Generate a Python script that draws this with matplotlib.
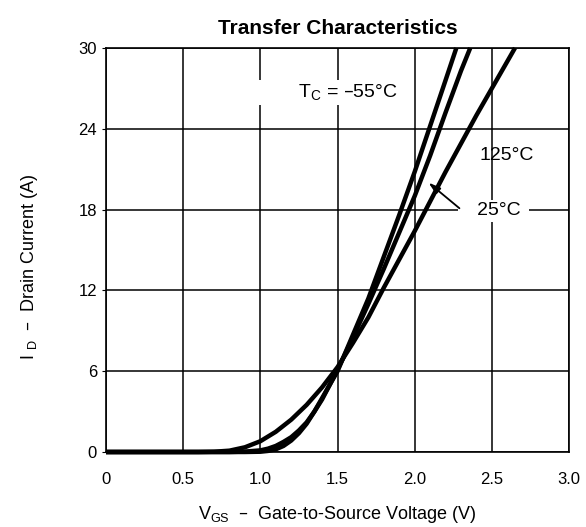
import matplotlib
matplotlib.use("Agg")
import matplotlib.pyplot as plt
import numpy as np

plt.rcParams['font.family'] = ['Liberation Sans', 'DejaVu Sans']
plt.rcParams['mathtext.default'] = 'regular'

# Data (VGS in V, ID in A)
vgs_m55 = [0, 0.9, 1.0, 1.05, 1.1, 1.15, 1.2, 1.25, 1.3, 1.35, 1.4, 1.45, 1.5, 1.6, 1.7, 1.8, 1.9, 2.0, 2.1, 2.2, 2.27]
id_m55 = [0, 0, 0.02, 0.08, 0.2, 0.45, 0.85, 1.4, 2.1, 3.0, 4.0, 5.0, 6.0, 8.7, 11.4, 14.5, 17.6, 20.8, 24.2, 27.6, 30]

vgs_25 = [0, 0.8, 0.9, 1.0, 1.05, 1.1, 1.15, 1.2, 1.25, 1.3, 1.35, 1.4, 1.45, 1.5, 1.6, 1.7, 1.8, 1.9, 2.0, 2.1, 2.2, 2.3, 2.36]
id_25 = [0, 0, 0.03, 0.12, 0.25, 0.45, 0.75, 1.1, 1.6, 2.2, 3.0, 3.9, 5.0, 6.1, 8.5, 11.0, 13.6, 16.3, 19.0, 22.0, 25.2, 28.3, 30]

vgs_125 = [0, 0.6, 0.7, 0.8, 0.9, 1.0, 1.1, 1.2, 1.3, 1.4, 1.5, 1.6, 1.7, 1.8, 1.9, 2.0, 2.1, 2.2, 2.3, 2.4, 2.5, 2.6, 2.65]
id_125 = [0, 0, 0.02, 0.1, 0.35, 0.8, 1.5, 2.4, 3.5, 4.8, 6.3, 8.1, 10.0, 12.2, 14.3, 16.4, 18.6, 20.8, 22.9, 25.0, 27.0, 29.0, 30]

xticks = [0, 0.5, 1.0, 1.5, 2.0, 2.5, 3.0]
xticklabels = ['0', '0.5', '1.0', '1.5', '2.0', '2.5', '3.0']
yticks = [0, 6, 12, 18, 24, 30]

fig = plt.figure(figsize=(5.86, 5.27), dpi=100)
ax = fig.add_axes([106/586, 1-452/527, (569-106)/586, (452-48)/527])

for v, i in [(vgs_m55, id_m55), (vgs_25, id_25), (vgs_125, id_125)]:
    ax.plot(v, i, color='black', lw=3.2, solid_capstyle='butt', zorder=3, clip_on=False)

ax.set_xlim(0, 3.0)
ax.set_ylim(0, 30)
ax.set_xticks(xticks)
ax.set_xticklabels(xticklabels)
ax.set_yticks(yticks)
ax.grid(True, color='black', lw=1.1)
ax.set_axisbelow(True)
ax.tick_params(axis='x', length=0, labelsize=12, pad=14.5, colors='black')
ax.tick_params(axis='y', direction='out', length=3, labelsize=12, pad=3.4, colors='black')
for s in ax.spines.values():
    s.set_linewidth(1.2)
    s.set_color('black')

ax.set_title('Transfer Characteristics', fontsize=15, fontweight='bold', pad=10)
ax.set_xlabel('V$_{GS}$  –  Gate-to-Source Voltage (V)', fontsize=13, labelpad=12)
ax.set_ylabel('I $_{D}$  –  Drain Current (A)', fontsize=13)
ax.yaxis.set_label_coords(-0.143, 0.46)

ax.text(1.886, 26.7, '        T$_{C}$ = –55°C', fontsize=14, ha='right', va='center',
        bbox=dict(facecolor='white', edgecolor='none', pad=1.5), zorder=2)
ax.text(2.42, 22.05, '125°C', fontsize=14, ha='left', va='center', zorder=4)
ax.text(2.30, 17.9, '   25°C ', fontsize=14, ha='left', va='center',
        bbox=dict(facecolor='white', edgecolor='none', pad=2), zorder=2)
ax.annotate('', xy=(2.09, 20.0), xytext=(2.29, 18.1),
            arrowprops=dict(arrowstyle='-|>,head_length=0.7,head_width=0.22', color='black', lw=1.3,
                            shrinkA=0, shrinkB=0), zorder=4)

fig.savefig('out.png', dpi=100)
